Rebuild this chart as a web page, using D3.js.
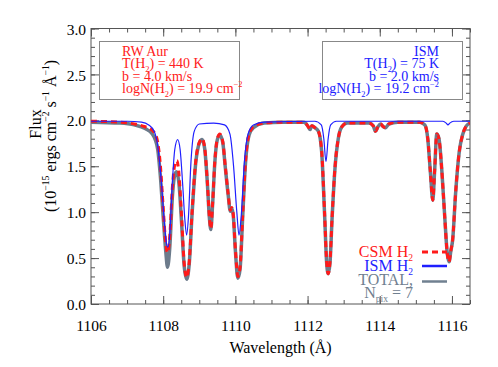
<!DOCTYPE html>
<html>
<head>
<meta charset="utf-8">
<script src="https://cdn.jsdelivr.net/npm/d3@7"></script>
<style>
  body { margin: 0; background: #fff; }
</style>
</head>
<body>
<div id="chart"></div>
<script>
// wavelength (A) / flux pairs
var ismWave = [1106.0, 1107.0, 1107.4, 1107.6, 1107.75, 1107.85, 1107.95, 1108.03, 1108.09, 1108.13, 1108.18, 1108.25, 1108.32, 1108.40, 1108.47, 1108.54, 1108.60, 1108.65, 1108.70, 1108.77, 1108.86, 1109.0, 1109.4, 1109.7, 1109.85, 1109.95, 1110.04, 1110.10, 1110.16, 1110.25, 1110.35, 1110.5, 1110.8, 1112.2, 1112.38, 1112.45, 1112.51, 1112.57, 1112.64, 1112.8, 1115.75, 1115.84, 1115.89, 1115.94, 1116.05, 1116.5];
var ismFlux = [1.99, 1.99, 1.98, 1.95, 1.88, 1.72, 1.32, 0.90, 0.66, 0.62, 0.75, 1.30, 1.68, 1.79, 1.68, 1.30, 0.92, 0.75, 0.95, 1.55, 1.88, 1.96, 1.97, 1.95, 1.85, 1.50, 1.00, 0.75, 0.95, 1.55, 1.85, 1.95, 1.98, 1.99, 1.95, 1.80, 1.55, 1.80, 1.95, 1.99, 1.99, 1.97, 1.95, 1.97, 1.99, 1.99];

var csmWave = [1106.0, 1106.8, 1107.2, 1107.5, 1107.7, 1107.78, 1107.85, 1107.92, 1108.0, 1108.07, 1108.12, 1108.18, 1108.26, 1108.33, 1108.38, 1108.44, 1108.51, 1108.58, 1108.65, 1108.72, 1108.80, 1108.90, 1109.0, 1109.08, 1109.15, 1109.22, 1109.28, 1109.32, 1109.37, 1109.43, 1109.50, 1109.57, 1109.65, 1109.72, 1109.80, 1109.86, 1109.90, 1109.94, 1110.0, 1110.07, 1110.13, 1110.20, 1110.28, 1110.38, 1110.5, 1110.8, 1111.3, 1111.9, 1112.02, 1112.07, 1112.12, 1112.2, 1112.3, 1112.39, 1112.47, 1112.53, 1112.57, 1112.62, 1112.68, 1112.76, 1112.85, 1112.95, 1113.1, 1113.7, 1113.82, 1113.88, 1113.95, 1114.02, 1114.1, 1114.16, 1114.25, 1114.5, 1115.1, 1115.25, 1115.33, 1115.40, 1115.47, 1115.52, 1115.58, 1115.64, 1115.72, 1115.80, 1115.87, 1115.92, 1115.97, 1116.02, 1116.10, 1116.20, 1116.30, 1116.40, 1116.5];
var csmFlux = [1.99, 1.98, 1.96, 1.93, 1.89, 1.85, 1.76, 1.52, 1.05, 0.66, 0.56, 0.72, 1.30, 1.53, 1.56, 1.40, 0.95, 0.45, 0.29, 0.45, 1.00, 1.55, 1.76, 1.80, 1.70, 1.35, 0.95, 0.82, 1.10, 1.55, 1.80, 1.85, 1.77, 1.50, 1.20, 1.02, 1.05, 0.98, 0.60, 0.30, 0.40, 0.95, 1.55, 1.85, 1.93, 1.97, 1.98, 1.98, 1.93, 1.90, 1.94, 1.92, 1.88, 1.67, 1.00, 0.45, 0.33, 0.45, 0.95, 1.49, 1.80, 1.93, 1.97, 1.97, 1.94, 1.88, 1.93, 1.96, 1.93, 1.92, 1.96, 1.98, 1.98, 1.95, 1.80, 1.45, 1.13, 1.45, 1.85, 1.80, 1.45, 0.95, 0.55, 0.46, 0.58, 0.70, 1.20, 1.65, 1.85, 1.94, 1.97];

var totWave = [1106.0, 1106.8, 1107.2, 1107.5, 1107.7, 1107.78, 1107.85, 1107.92, 1108.0, 1108.07, 1108.12, 1108.18, 1108.26, 1108.33, 1108.37, 1108.44, 1108.51, 1108.58, 1108.65, 1108.72, 1108.80, 1108.90, 1109.0, 1109.08, 1109.15, 1109.22, 1109.28, 1109.32, 1109.37, 1109.43, 1109.50, 1109.57, 1109.65, 1109.72, 1109.80, 1109.86, 1109.90, 1109.94, 1110.0, 1110.07, 1110.13, 1110.20, 1110.28, 1110.38, 1110.5, 1110.8, 1111.3, 1111.9, 1112.02, 1112.07, 1112.12, 1112.2, 1112.3, 1112.39, 1112.47, 1112.53, 1112.57, 1112.62, 1112.68, 1112.76, 1112.85, 1112.95, 1113.1, 1113.7, 1113.82, 1113.88, 1113.95, 1114.02, 1114.1, 1114.16, 1114.25, 1114.5, 1115.1, 1115.25, 1115.33, 1115.40, 1115.47, 1115.52, 1115.58, 1115.64, 1115.72, 1115.80, 1115.87, 1115.92, 1115.97, 1116.02, 1116.10, 1116.20, 1116.30, 1116.40, 1116.5];
var totFlux = [1.98, 1.97, 1.95, 1.91, 1.85, 1.79, 1.68, 1.40, 0.95, 0.58, 0.40, 0.60, 1.20, 1.42, 1.44, 1.30, 0.88, 0.42, 0.27, 0.43, 0.98, 1.53, 1.75, 1.79, 1.69, 1.34, 0.94, 0.81, 1.09, 1.54, 1.79, 1.84, 1.76, 1.49, 1.19, 1.01, 1.04, 0.97, 0.58, 0.28, 0.38, 0.93, 1.53, 1.84, 1.92, 1.97, 1.98, 1.98, 1.93, 1.90, 1.94, 1.92, 1.88, 1.66, 0.99, 0.44, 0.33, 0.44, 0.94, 1.48, 1.80, 1.93, 1.97, 1.97, 1.94, 1.88, 1.93, 1.96, 1.93, 1.92, 1.96, 1.98, 1.98, 1.95, 1.80, 1.45, 1.13, 1.45, 1.85, 1.80, 1.45, 0.95, 0.55, 0.46, 0.58, 0.70, 1.20, 1.65, 1.85, 1.94, 1.97];

var xTicks = [1106, 1108, 1110, 1112, 1114, 1116];
var yTicks = [0.0, 0.5, 1.0, 1.5, 2.0, 2.5, 3.0];

var FONT = "Liberation Serif";
var W = 498, H = 367;
var margin = {top: 28.5, right: 28, bottom: 63, left: 91};
var width = W - margin.left - margin.right,
    height = H - margin.top - margin.bottom;

var svg = d3.select("#chart").append("svg")
  .attr("width", W).attr("height", H)
  .attr("font-family", FONT);

var g = svg.append("g")
  .attr("transform", "translate(" + margin.left + "," + margin.top + ")");

var x = d3.scaleLinear().domain([1106, 1116.5]).range([0, width]);
var y = d3.scaleLinear().domain([0, 3]).range([height, 0]);

var axisCol = "#555";

// frame + inward ticks on all sides
function tickAxis(axis, transform) {
  var a = g.append("g").attr("transform", transform).call(axis);
  a.attr("font-family", FONT);
  a.select(".domain").remove();
  a.selectAll("line").attr("stroke", axisCol);
  a.selectAll("text").attr("font-family", FONT).style("font-family", "'Liberation Serif'");
  return a;
}
var xMinor = d3.range(1106, 1116.51, 0.5);
var yMinor = d3.range(0, 3.01, 0.1);

var xb = tickAxis(d3.axisBottom(x).tickValues(xTicks).tickSize(-8).tickFormat(d3.format("d")), "translate(0," + height + ")");
xb.selectAll("text").attr("font-size", 15.5).attr("fill", "#000").attr("dy", null).attr("y", 27);
tickAxis(d3.axisBottom(x).tickValues(xMinor).tickSize(-4).tickFormat(""), "translate(0," + height + ")");
tickAxis(d3.axisTop(x).tickValues(xTicks).tickSize(-8).tickFormat(""), "translate(0,0)");
tickAxis(d3.axisTop(x).tickValues(xMinor).tickSize(-4).tickFormat(""), "translate(0,0)");

var yl = tickAxis(d3.axisLeft(y).tickValues(yTicks).tickSize(-8).tickFormat(d3.format(".1f")), "translate(0,0)");
yl.selectAll("text").attr("font-size", 15.5).attr("fill", "#000").attr("x", -5).attr("dy", "0.36em");
tickAxis(d3.axisLeft(y).tickValues(yMinor).tickSize(-4).tickFormat(""), "translate(0,0)");
tickAxis(d3.axisRight(y).tickValues(yTicks).tickSize(-8).tickFormat(""), "translate(" + width + ",0)");
tickAxis(d3.axisRight(y).tickValues(yMinor).tickSize(-4).tickFormat(""), "translate(" + width + ",0)");

g.append("rect").attr("width", width).attr("height", height)
  .attr("fill", "none").attr("stroke", axisCol).attr("stroke-width", 1);

// curves
g.append("clipPath").attr("id", "clip").append("rect")
  .attr("width", width).attr("height", height);
var line = d3.line()
  .x(function (d) { return x(d[0]); })
  .y(function (d) { return y(d[1]); })
  .curve(d3.curveMonotoneX);

var plot = g.append("g").attr("clip-path", "url(#clip)");
plot.append("path").datum(d3.zip(totWave, totFlux))
  .attr("d", line).attr("fill", "none").attr("stroke", "#6c7b8b").attr("stroke-width", 3.5);
plot.append("path").datum(d3.zip(csmWave, csmFlux))
  .attr("d", line).attr("fill", "none").attr("stroke", "#ff1a1a").attr("stroke-width", 3)
  .attr("stroke-dasharray", "6,4");
plot.append("path").datum(d3.zip(ismWave, ismFlux))
  .attr("d", line).attr("fill", "none").attr("stroke", "#1f1fff").attr("stroke-width", 1.2);

// rich text: segments with optional sub/sup; baseline shift undone on next segment
function rich(sel, parts, size) {
  var pending = 0;
  sel.attr("font-family", FONT);
  parts.forEach(function (p) {
    if (typeof p === "string") {
      sel.append("tspan").attr("font-family", FONT).attr("font-size", size).attr("dy", pending || null).text(p);
      pending = 0;
    } else {
      var sh = p.sub ? 0.28 * size : -0.42 * size;
      sel.append("tspan").attr("font-family", FONT).attr("font-size", size * 0.6).attr("dy", pending + sh).text(p.sub || p.sup);
      pending = -sh;
    }
  });
  return sel;
}

// info boxes
svg.append("rect").attr("x", 99.5).attr("y", 41.5).attr("width", 140).attr("height", 58)
  .attr("fill", "none").attr("stroke", "#888");
svg.append("rect").attr("x", 322.5).attr("y", 41.5).attr("width", 140).attr("height", 58)
  .attr("fill", "none").attr("stroke", "#888");

var csmBox = [["RW Aur"], ["T(H", {sub: "2"}, ") = 440 K"], ["b = 4.0 km/s"], ["logN(H", {sub: "2"}, ") = 19.9 cm", {sup: "\u22122"}]];
var ismBox = [["ISM"], ["T(H", {sub: "2"}, ") = 75 K"], ["b = 2.0 km/s"], ["logN(H", {sub: "2"}, ") = 19.2 cm", {sup: "\u22122"}]];
csmBox.forEach(function (parts, i) {
  rich(svg.append("text").attr("x", 122).attr("y", 56 + i * 12.3).attr("fill", "#ff2020"), parts, 14);
});
ismBox.forEach(function (parts, i) {
  rich(svg.append("text").attr("x", 439).attr("y", 56 + i * 12.3).attr("fill", "#2020ff")
    .attr("text-anchor", "end"), parts, 14);
});

// legend
var legendRows = [
  {parts: ["CSM H", {sub: "2"}], col: "#ff1a1a", y: 257, ly: 252, dash: "6,4", sw: 3},
  {parts: ["ISM H", {sub: "2"}], col: "#1f1fff", y: 271, ly: 266, dash: null, sw: 2.5},
  {parts: ["TOTAL,"], col: "#708090", y: 285, ly: 281.5, dash: null, sw: 2.5}
];
legendRows.forEach(function (r) {
  rich(svg.append("text").attr("x", 413).attr("y", r.y).attr("fill", r.col)
    .attr("text-anchor", "end"), r.parts, 16);
  svg.append("line").attr("x1", 422).attr("x2", 447).attr("y1", r.ly).attr("y2", r.ly)
    .attr("stroke", r.col).attr("stroke-width", r.sw).attr("stroke-dasharray", r.dash);
});
rich(svg.append("text").attr("x", 413).attr("y", 298).attr("fill", "#708090")
  .attr("text-anchor", "end"), ["N", {sub: "pix"}, " = 7"], 16);

// axis titles
rich(svg.append("text").attr("x", margin.left + width / 2).attr("y", 353)
  .attr("text-anchor", "middle"), ["Wavelength (\u00c5)"], 16);

svg.append("text").attr("transform", "translate(41,124) rotate(-90)")
  .attr("font-family", FONT).attr("text-anchor", "middle").attr("font-size", 16).text("Flux");
rich(svg.append("text").attr("transform", "translate(56,136) rotate(-90)")
  .attr("text-anchor", "middle"),
  ["(10", {sup: "\u221215"}, " ergs cm", {sup: "\u22122"}, " s", {sup: "\u22121"}, " \u00c5", {sup: "\u22121"}, ")"], 16);
</script>
</body>
</html>
